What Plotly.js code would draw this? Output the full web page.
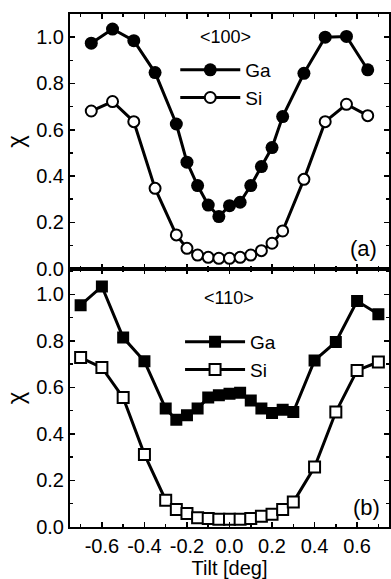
<!DOCTYPE html>
<html>
<head>
<meta charset="utf-8">
<script src="https://cdn.plot.ly/plotly-3.0.1.min.js"></script>
<style>html,body{margin:0;padding:0;background:#fff;}#chart{width:391px;height:579px;}</style>
</head>
<body>
<div id="chart"></div>
<script>
// Panel (a) <100>
const tiltA = [-0.65,-0.55,-0.45,-0.35,-0.25,-0.2,-0.15,-0.1,-0.05,0,0.05,0.1,0.15,0.2,0.25,0.35,0.45,0.55,0.65];
const gaA = [0.974,1.035,0.985,0.847,0.625,0.46,0.359,0.275,0.225,0.272,0.287,0.359,0.441,0.523,0.657,0.844,1.0,1.003,0.859];
const siA = [0.681,0.722,0.635,0.347,0.146,0.088,0.059,0.049,0.045,0.045,0.049,0.059,0.078,0.11,0.163,0.386,0.635,0.71,0.661];
// Panel (b) <110>
const tiltB = [-0.7,-0.6,-0.5,-0.4,-0.3,-0.25,-0.2,-0.15,-0.1,-0.05,0,0.05,0.1,0.15,0.2,0.25,0.3,0.4,0.5,0.6,0.7];
const gaB = [0.953,1.034,0.814,0.712,0.509,0.461,0.48,0.509,0.556,0.566,0.573,0.577,0.544,0.509,0.49,0.504,0.494,0.716,0.795,0.971,0.914];
const siB = [0.728,0.685,0.556,0.312,0.115,0.075,0.058,0.04,0.036,0.033,0.033,0.033,0.036,0.046,0.055,0.075,0.107,0.258,0.494,0.673,0.709];
const yTicks = [0,0.2,0.4,0.6,0.8,1.0];
const xTicks = [-0.6,-0.4,-0.2,0,0.2,0.4,0.6];

const FONT = '"Liberation Sans", Arial, sans-serif';
const lineW = 3;

const traces = [
  {x: tiltA, y: gaA, name: 'Ga', xaxis: 'x2', yaxis: 'y2', legend: 'legend', mode: 'lines+markers',
   line: {color: '#000', width: lineW}, marker: {symbol: 'circle', size: 13, color: '#000'}},
  {x: tiltA, y: siA, name: 'Si', xaxis: 'x2', yaxis: 'y2', legend: 'legend', mode: 'lines+markers',
   line: {color: '#000', width: lineW}, marker: {symbol: 'circle', size: 11, color: '#fff', line: {color: '#000', width: 2}}},
  {x: tiltB, y: gaB, name: 'Ga', xaxis: 'x', yaxis: 'y', legend: 'legend2', mode: 'lines+markers',
   line: {color: '#000', width: lineW}, marker: {symbol: 'square', size: 12, color: '#000'}},
  {x: tiltB, y: siB, name: 'Si', xaxis: 'x', yaxis: 'y', legend: 'legend2', mode: 'lines+markers',
   line: {color: '#000', width: lineW}, marker: {symbol: 'square', size: 11, color: '#fff', line: {color: '#000', width: 2}}}
];

const split = 0.5035;
function xax(extra) {
  return Object.assign({
    range: [-0.75, 0.75], tickvals: xTicks, ticktext: xTicks.map(v => v.toFixed(1)),
    ticks: 'inside', ticklen: 5, tickwidth: 1.5, tickcolor: '#000',
    showline: true, linewidth: 2, linecolor: '#000', mirror: 'allticks',
    showgrid: false, zeroline: false,
    minor: {ticks: 'inside', ticklen: 3, tickwidth: 1.5, tickcolor: '#000', dtick: 0.1, tick0: 0, showgrid: false},
    tickfont: {family: FONT, size: 20, color: '#000'}
  }, extra);
}
function yax(extra) {
  return Object.assign({
    tickvals: yTicks, ticktext: yTicks.map(v => v.toFixed(1)),
    ticks: 'inside', ticklen: 5, tickwidth: 1.5, tickcolor: '#000',
    showline: true, linewidth: 2, linecolor: '#000', mirror: 'allticks',
    showgrid: false, zeroline: false,
    minor: {ticks: 'inside', ticklen: 3, tickwidth: 1.5, tickcolor: '#000', dtick: 0.1, tick0: 0, showgrid: false},
    tickfont: {family: FONT, size: 20, color: '#000'},
    title: {text: 'χ', font: {family: FONT, size: 24, color: '#000'}, standoff: 5}
  }, extra);
}

const layout = {
  width: 391, height: 579,
  margin: {l: 70, r: 2, t: 14, b: 52},
  paper_bgcolor: '#fff', plot_bgcolor: '#fff',
  font: {family: FONT, color: '#000'},
  xaxis: xax({anchor: 'y', domain: [0, 1],
    title: {text: 'Tilt [deg]', font: {family: FONT, size: 20, color: '#000'}, standoff: 0}}),
  yaxis: yax({anchor: 'x', domain: [0, split], range: [0, 1.11]}),
  xaxis2: xax({anchor: 'y2', domain: [0, 1], matches: 'x', showticklabels: false}),
  yaxis2: yax({anchor: 'x2', domain: [split, 1], range: [0, 1.1]}),
  legend: {x: 0.33, y: 0.928, xanchor: 'left', yanchor: 'top', bgcolor: 'rgba(0,0,0,0)', itemwidth: 60,
    font: {family: FONT, size: 19, color: '#000'}, traceorder: 'normal'},
  legend2: {x: 0.345, y: 0.398, xanchor: 'left', yanchor: 'top', bgcolor: 'rgba(0,0,0,0)', itemwidth: 60,
    font: {family: FONT, size: 19, color: '#000'}, traceorder: 'normal'},
  annotations: [
    {text: '&lt;100&gt;', xref: 'x2', yref: 'y2', x: -0.017, y: 1.0, showarrow: false,
     font: {family: FONT, size: 18, color: '#000'}},
    {text: '&lt;110&gt;', xref: 'x', yref: 'y', x: -0.003, y: 0.983, showarrow: false,
     font: {family: FONT, size: 18, color: '#000'}},
    {text: '(a)', xref: 'x2', yref: 'y2', x: 0.628, y: 0.089, showarrow: false,
     font: {family: FONT, size: 22, color: '#000'}},
    {text: '(b)', xref: 'x', yref: 'y', x: 0.642, y: 0.085, showarrow: false,
     font: {family: FONT, size: 22, color: '#000'}}
  ],
  showlegend: true
};

Plotly.newPlot('chart', traces, layout, {staticPlot: true, displayModeBar: false});
</script>
</body>
</html>
